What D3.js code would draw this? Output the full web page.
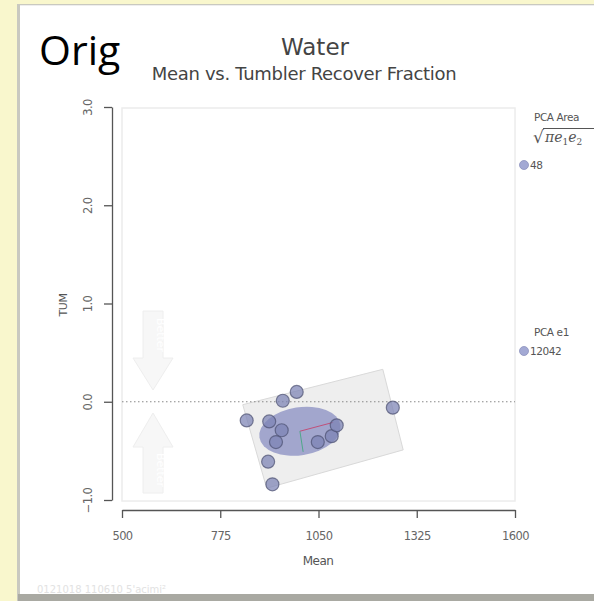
<!DOCTYPE html>
<html>
<head>
<meta charset="utf-8">
<script src="https://cdn.jsdelivr.net/npm/d3@7"></script>
<style>
  body { margin: 0; background: #f9f7cd; overflow: hidden; }
  svg { display: block; }
</style>
</head>
<body>
<div id="chart"></div>
<script>
// data
const meanVals = [849, 912, 950, 989, 947, 931, 909, 921, 1048, 1087, 1101, 1258];
const tumVals = [-0.19, -0.20, 0.01, 0.10, -0.29, -0.41, -0.61, -0.84, -0.41, -0.35, -0.24, -0.06];
const xTicks = [500, 775, 1050, 1325, 1600];
const yTicks = [-1.0, 0.0, 1.0, 2.0, 3.0];
// PCA box corners (mean, tum)
const boxMean = [838, 1230, 1287, 905];
const boxTum = [-0.03, 0.33, -0.49, -0.88];
// PCA ellipse centre and axis ends
const pcaCenter = [998, -0.30];
const pcaE1End = [1091, -0.21];
const pcaE2End = [1007, -0.51];
const legendLabels = ["PCA Area", "PCA e1"];
const legendValues = ["48", "12042"];

const width = 594, height = 601;
const svg = d3.select("#chart").append("svg")
  .attr("width", width)
  .attr("height", height);

// paper panel with shadow
svg.append("rect").attr("x", 17).attr("y", 4).attr("width", 590).attr("height", 597).attr("fill", "#c9c9c0");
svg.append("rect").attr("x", 18).attr("y", 594).attr("width", 590).attr("height", 7).attr("fill", "#a9a9a2");
svg.append("rect").attr("x", 20).attr("y", 5).attr("width", 580).attr("height", 589).attr("fill", "#fff");
svg.append("rect").attr("x", 20).attr("y", 5).attr("width", 580).attr("height", 1).attr("fill", "#eee");

var x = d3.scaleLinear().domain([500, 1600]).range([122, 515]);
var y = d3.scaleLinear().domain([-1, 3]).range([500, 107]);

// plot box
svg.append("rect")
  .attr("x", 122).attr("y", 108).attr("width", 393).attr("height", 393)
  .attr("fill", "none").attr("stroke", "#ececec").attr("stroke-width", 1.5);

// "better" arrows
function arrow(x0, yTop, yBot, down) {
  var p;
  if (down) {
    p = [[x0 - 10, yTop], [x0 + 10, yTop], [x0 + 10, yBot - 32], [x0 + 20, yBot - 32],
         [x0, yBot], [x0 - 20, yBot - 32], [x0 - 10, yBot - 32]];
  } else {
    p = [[x0, yTop], [x0 + 20, yTop + 34], [x0 + 10, yTop + 34], [x0 + 10, yBot],
         [x0 - 10, yBot], [x0 - 10, yTop + 34], [x0 - 20, yTop + 34]];
  }
  svg.append("path")
    .attr("d", d3.line()(p) + "Z")
    .attr("fill", "#f7f7f7").attr("stroke", "#eeeeee").attr("stroke-width", 1);
}
arrow(153, 311, 390, true);
arrow(153, 413, 493, false);
svg.append("text").attr("transform", "translate(157,335) rotate(90)")
  .attr("text-anchor", "middle").attr("font-family", "DejaVu Sans").attr("font-size", 11)
  .attr("fill", "#fff").text("Better");
svg.append("text").attr("transform", "translate(157,470) rotate(90)")
  .attr("text-anchor", "middle").attr("font-family", "DejaVu Sans").attr("font-size", 11)
  .attr("fill", "#fff").text("Better");

// PCA box
svg.append("polygon")
  .attr("points", boxMean.map((m, i) => x(m) + "," + y(boxTum[i])).join(" "))
  .attr("fill", "#ececec").attr("fill-opacity", 0.9)
  .attr("stroke", "#d9d9d9").attr("stroke-width", 1);

// zero line
svg.append("line")
  .attr("x1", 122).attr("x2", 515).attr("y1", y(0)).attr("y2", y(0))
  .attr("stroke", "#888").attr("stroke-dasharray", "1.5,2.5").attr("stroke-width", 1);

// PCA ellipse
var cx = x(pcaCenter[0]), cy = y(pcaCenter[1]);
var e1dx = x(pcaE1End[0]) - cx, e1dy = y(pcaE1End[1]) - cy;
var ang = Math.atan2(e1dy, e1dx) * 180 / Math.PI;
svg.append("ellipse")
  .attr("transform", "translate(" + cx + "," + cy + ") rotate(" + (ang * 0.6) + ")")
  .attr("rx", 41).attr("ry", 24)
  .attr("fill", "#8f93c4").attr("fill-opacity", 0.8);
svg.append("line")
  .attr("x1", cx).attr("y1", cy).attr("x2", x(pcaE1End[0])).attr("y2", y(pcaE1End[1]))
  .attr("stroke", "#c0507a").attr("stroke-width", 1);
svg.append("line")
  .attr("x1", cx).attr("y1", cy).attr("x2", x(pcaE2End[0])).attr("y2", y(pcaE2End[1]))
  .attr("stroke", "#4fa88a").attr("stroke-width", 1);

// points
svg.selectAll(".pt")
  .data(meanVals)
  .enter().append("circle")
  .attr("class", "pt")
  .attr("cx", function(d) { return x(d); })
  .attr("cy", function(d, i) { return y(tumVals[i]); })
  .attr("r", 6.5)
  .style("fill", "#7c82b4")
  .style("fill-opacity", 0.72)
  .style("stroke", "#4c5070")
  .style("stroke-opacity", 0.7)
  .style("stroke-width", 1.2);

// axes
var yAxis = d3.axisLeft(y).tickValues(yTicks).tickSize(8).tickSizeOuter(0)
  .tickFormat(d3.format(".1f"));
var gy = svg.append("g").attr("transform", "translate(112,0)").call(yAxis);
gy.selectAll("text")
  .attr("transform", "rotate(-90)")
  .attr("x", 0).attr("y", -24).attr("dy", "0.35em")
  .style("text-anchor", "middle");
var xAxis = d3.axisBottom(x).tickValues(xTicks).tickSize(8).tickSizeOuter(0)
  .tickFormat(d3.format("d"));
var gx = svg.append("g").attr("transform", "translate(0,510)").call(xAxis);
gx.selectAll("text").attr("y", 22);
svg.selectAll(".domain, .tick line").attr("stroke", "#555").attr("stroke-width", 1.3);
svg.selectAll(".tick text").attr("font-family", "DejaVu Sans").attr("font-size", 11.5)
  .attr("fill", "#666").attr("letter-spacing", "-0.6px");

// axis titles
svg.append("text").attr("transform", "translate(63,305) rotate(-90)")
  .attr("text-anchor", "middle").attr("dy", "0.35em")
  .attr("font-family", "DejaVu Sans").attr("font-size", 11).attr("fill", "#555")
  .attr("letter-spacing", "-0.5px").text("TUM");
svg.append("text").attr("x", 318).attr("y", 565)
  .attr("text-anchor", "middle")
  .attr("font-family", "DejaVu Sans").attr("font-size", 12).attr("fill", "#555")
  .attr("letter-spacing", "-0.5px").text("Mean");

// titles
svg.append("text").attr("x", 39).attr("y", 65)
  .attr("font-family", "Open Sans").attr("font-size", 41).attr("fill", "#000")
  .text("Orig");
svg.append("text").attr("x", 315).attr("y", 55)
  .attr("text-anchor", "middle")
  .attr("font-family", "DejaVu Sans").attr("font-size", 23).attr("fill", "#444")
  .text("Water");
svg.append("text").attr("x", 304).attr("y", 80)
  .attr("text-anchor", "middle")
  .attr("font-family", "DejaVu Sans").attr("font-size", 18).attr("fill", "#444")
  .attr("letter-spacing", "-0.3px").text("Mean vs. Tumbler Recover Fraction");

// legend at right
var lg = svg.append("g").attr("font-family", "DejaVu Sans").attr("fill", "#555");
lg.append("text").attr("x", 534).attr("y", 121).attr("font-size", 10.5)
  .attr("letter-spacing", "-0.4px").text(legendLabels[0]);
lg.append("text").attr("x", 533).attr("y", 143).attr("font-family", "DejaVu Serif")
  .attr("font-size", 17).text("\u221A");
lg.append("line").attr("x1", 543).attr("x2", 600).attr("y1", 128.5).attr("y2", 128.5)
  .attr("stroke", "#555").attr("stroke-width", 1);
var f = lg.append("text").attr("x", 545).attr("y", 142).attr("font-family", "DejaVu Serif")
  .attr("font-style", "italic").attr("font-size", 14);
f.append("tspan").text("\u03C0e");
f.append("tspan").attr("font-size", 9).attr("dy", 3).attr("font-style", "normal").text("1");
f.append("tspan").attr("dy", -3).text("e");
f.append("tspan").attr("font-size", 9).attr("dy", 3).attr("font-style", "normal").text("2");
lg.append("text").attr("x", 534).attr("y", 336).attr("font-size", 10.5)
  .attr("letter-spacing", "-0.4px").text(legendLabels[1]);
[165, 351].forEach(function(cyL, i) {
  lg.append("circle").attr("cx", 524).attr("cy", cyL).attr("r", 4.5)
    .attr("fill", "#a3a9d4").attr("stroke", "#8c91bd").attr("stroke-width", 0.8);
  lg.append("text").attr("x", 530).attr("y", cyL + 4).attr("font-size", 10.5)
    .attr("letter-spacing", "-0.4px").text(legendValues[i]);
});

// faint footer stamp
svg.append("text").attr("x", 37).attr("y", 593)
  .attr("font-family", "DejaVu Sans").attr("font-size", 10).attr("fill", "#e2e2e2")
  .text("0121018 110610 5'acimi\u00B2");
</script>
</body>
</html>
